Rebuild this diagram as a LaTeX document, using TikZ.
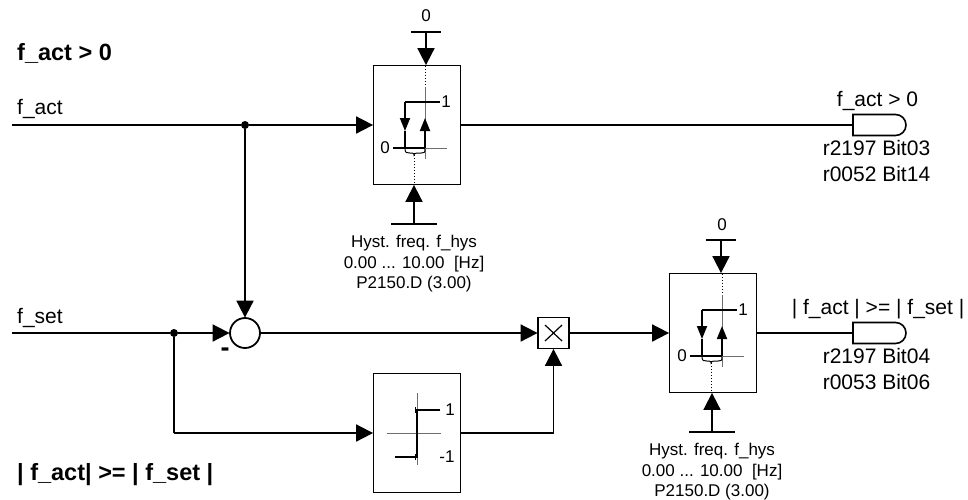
\documentclass[tikz,border=0pt]{standalone}
\usepackage{fontspec}
\setmainfont{Liberation Sans}
\usetikzlibrary{arrows.meta,positioning,calc,shapes.misc}
\definecolor{AxisGray}{RGB}{110,110,110}
\tikzset{
  sigline/.style={line width=1.8pt, black},
  arrow/.style={sigline, -{Triangle[length=17pt,width=17pt]}, shorten >=-0.5pt},
  smallarrow/.style={sigline, -{Triangle[length=13pt,width=10pt]}},
  funcbox/.style={draw, line width=1.8pt, minimum width=87pt, minimum height=119pt, inner sep=0pt},
  multbox/.style={draw, line width=1.8pt, minimum width=31pt, minimum height=31pt, inner sep=0pt},
  sumcircle/.style={draw, circle, line width=1.8pt, minimum size=30pt, inner sep=0pt},
  junction/.style={circle, fill=black, minimum size=8pt, inner sep=0pt},
  gate/.style={draw, rounded rectangle, rounded rectangle left arc=none, line width=1.6pt,
    minimum width=53pt, minimum height=21pt, inner sep=0pt},
  label/.style={font=\fontsize{21}{26}\selectfont, inner sep=0pt, align=center},
  smalllabel/.style={font=\fontsize{17}{20.5}\selectfont, inner sep=0pt, align=center},
  titlelabel/.style={font=\fontsize{23.5}{28}\selectfont\bfseries, inner sep=0pt, anchor=west},
  axis/.style={line width=1pt, AxisGray},
  dotline/.style={line width=1pt, dotted},
  hystcurve/.pic={
    \draw[dotline] (8,-59) -- (8,-38);
    \draw[axis] (8,-38) -- (8,34);
    \draw[axis] (-12,23) -- (30,23);
    \draw[sigline] (-24,23) -- (8,23);
    \draw[sigline] (-12,-23) -- (23,-23);
    \draw[smallarrow] (-12,-23) -- (-12,6);
    \draw[sigline] (-12,6) -- (-12,23);
    \draw[smallarrow] (8,23) -- (8,-7);
    \draw[line width=1pt] (-12,24) .. controls (-12,28) and (-10,28) .. (-7,28) -- (-5,28)
      .. controls (-3,28) and (-3,29) .. (-3,30) .. controls (-3,29) and (-2,28) .. (0,28)
      -- (4,28) .. controls (7,28) and (8,28) .. (8,24);
    \draw[dotline] (-3,30) -- (-3,59);
    \node[smalllabel] (one) at (29,-23) {1};
    \node[smalllabel] (zero) at (-32,23) {0};
  }
}
\begin{document}
\begin{tikzpicture}[x=1pt,y=-1pt]
  \useasboundingbox (0,0) rectangle (968,499);
  % blocks
  \node[funcbox] (hystup) at (417,125) {};
  \node[funcbox] (hystlow) at (713,333) {};
  \node[funcbox] (signbox) at (417,433) {};
  \node[multbox] (mult) at (553.5,333) {};
  \node[sumcircle] (sum) at (245,333) {};
  \node[junction] (dotact) at (245,125) {};
  \node[junction] (dotset) at (174,333) {};
  \node[gate] (gateup) at (879.5,125) {};
  \node[gate] (gatelow) at (879.5,333) {};
  \pic (curveup) at (hystup.center) {hystcurve};
  \pic (curvelow) at (714,333) {hystcurve};
  % free ends
  \coordinate (factin) at (12,125);
  \coordinate (fsetin) at (12,333);
  \coordinate (topup) at (426,32);
  \coordinate (botup) at (414,224);
  \coordinate (toplow) at (721,240);
  \coordinate (botlow) at (712,432);
  \coordinate (signcorner) at (553.5,433);
  \coordinate (dotsign) at (174,433);
  % signals
  \draw[sigline] (factin) -- (dotact);
  \draw[arrow] (dotact) -- (hystup);
  \draw[sigline] (hystup) -- (gateup);
  \draw[arrow] (dotact) -- (sum);
  \draw[sigline] (fsetin) -- (dotset);
  \draw[arrow] (dotset) -- (sum);
  \draw[arrow] (sum) -- (mult);
  \draw[arrow] (mult) -- (hystlow);
  \draw[sigline] (hystlow) -- (gatelow);
  \draw[sigline] (dotset) -- (dotsign);
  \draw[arrow] (dotsign) -- (signbox);
  \draw[sigline] (signbox) -- (signcorner);
  \draw[arrow] (signcorner) -- (mult);
  \draw[line width=1.2pt] ($(mult)+(-8.5,-8)$) -- ($(mult)+(8.5,8)$);
  \draw[line width=1.2pt] ($(mult)+(-8.5,8)$) -- ($(mult)+(8.5,-8)$);
  % parameter inputs
  \draw[arrow] (topup) -- (topup |- hystup.north);
  \draw[sigline] ($(topup)+(-15,0)$) -- ($(topup)+(15,0)$);
  \draw[arrow] (botup) -- (botup |- hystup.south);
  \draw[sigline] ($(botup)+(-23,0)$) -- ($(botup)+(23,0)$);
  \draw[arrow] (toplow) -- (toplow |- hystlow.north);
  \draw[sigline] ($(toplow)+(-15,0)$) -- ($(toplow)+(15,0)$);
  \draw[arrow] (botlow) -- (botlow |- hystlow.south);
  \draw[sigline] ($(botlow)+(-23,0)$) -- ($(botlow)+(23,0)$);
  % sign curve
  \draw[axis] (417,393) -- (417,465);
  \draw[axis] (387,433) -- (441,433);
  \draw[sigline] (440,410) -- (417,410) -- (417,457) -- (395,457);
  \draw[line width=1pt] (415,407) -- (415,413) (415,454) -- (415,460);
  % labels
  \node[titlelabel] (titleup) at (17,53) {f\_act > 0};
  \node[titlelabel] (titlelow) at (17,475) {| f\_act| >= | f\_set |};
  \node[label,anchor=west] (factlabel) at (17,109) {f\_act};
  \node[label,anchor=west] (fsetlabel) at (17,318) {f\_set};
  \node[smalllabel] (zeroup) at (426,16) {0};
  \node[smalllabel] (zerolow) at (722,225) {0};
  \node[smalllabel,below=11pt of botup] (parup) {Hyst. freq. f\_hys\\0.00 ... 10.00~~[Hz]\\P2150.D (3.00)};
  \node[smalllabel,below=11pt of botlow] (parlow) {Hyst. freq. f\_hys\\0.00 ... 10.00~~[Hz]\\P2150.D (3.00)};
  \node[label,above=3pt of gateup,xshift=-2pt] (outup) {f\_act > 0};
  \node[label,below=4pt of gateup,xshift=-3pt] (bitsup) {r2197 Bit03\\r0052 Bit14};
  \node[label,above=3pt of gatelow,xshift=-1.5pt] (outlow) {| f\_act | >= | f\_set |};
  \node[label,below=4pt of gatelow,xshift=-3pt] (bitslow) {r2197 Bit04\\r0053 Bit06};
  \node[label,font=\fontsize{27}{30}\selectfont\bfseries] (minus) at (225,352) {-};
  \node[smalllabel] (signone) at (450,410) {1};
  \node[smalllabel] (signminus) at (447,457) {-1};
\end{tikzpicture}
\end{document}
